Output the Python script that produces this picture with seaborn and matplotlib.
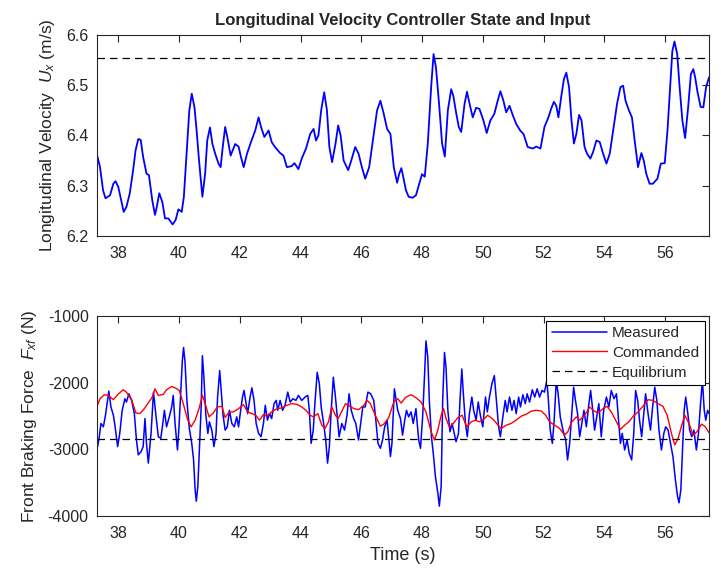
import numpy as np
import pandas as pd
import matplotlib
matplotlib.use("Agg")
import matplotlib.pyplot as plt
import seaborn as sns

# --- data ---
vel_t = [37.25, 37.4, 37.5, 37.58, 37.73, 37.84, 37.91, 38.0, 38.11, 38.18, 38.27, 38.38, 38.49, 38.57,
         38.66, 38.74, 38.82, 38.93, 39.01, 39.12, 39.21, 39.27, 39.35, 39.45, 39.54, 39.65, 39.79, 39.89,
         39.98, 40.09, 40.16, 40.25, 40.34, 40.42, 40.51, 40.58, 40.66, 40.77, 40.86, 40.93, 41.02, 41.1,
         41.19, 41.3, 41.37, 41.44, 41.52, 41.59, 41.7, 41.85, 41.96, 42.04, 42.13, 42.24, 42.37, 42.51,
         42.62, 42.7, 42.81, 42.95, 43.05, 43.16, 43.33, 43.44, 43.55, 43.71, 43.8, 43.93, 44.04, 44.18,
         44.32, 44.43, 44.51, 44.59, 44.68, 44.78, 44.87, 44.95, 45.04, 45.15, 45.24, 45.32, 45.42, 45.57,
         45.67, 45.8, 45.91, 46.02, 46.13, 46.26, 46.41, 46.52, 46.63, 46.74, 46.85, 46.96, 47.07, 47.18,
         47.25, 47.32, 47.38, 47.47, 47.56, 47.69, 47.8, 47.91, 48.0, 48.09, 48.19, 48.3, 48.38, 48.46,
         48.57, 48.66, 48.75, 48.85, 48.96, 49.03, 49.12, 49.21, 49.29, 49.4, 49.48, 49.58, 49.67, 49.78,
         49.89, 50.02, 50.13, 50.25, 50.38, 50.49, 50.58, 50.68, 50.77, 50.88, 50.99, 51.1, 51.23, 51.34,
         51.48, 51.65, 51.76, 51.9, 52.03, 52.16, 52.25, 52.34, 52.42, 52.49, 52.58, 52.67, 52.75, 52.84,
         52.92, 53.0, 53.08, 53.17, 53.25, 53.35, 53.43, 53.54, 53.63, 53.74, 53.85, 53.96, 54.07, 54.18,
         54.29, 54.42, 54.53, 54.62, 54.7, 54.81, 54.91, 55.0, 55.11, 55.22, 55.3, 55.38, 55.49, 55.6,
         55.75, 55.86, 55.99, 56.08, 56.18, 56.24, 56.31, 56.4, 56.48, 56.57, 56.66, 56.76, 56.85, 56.93,
         56.99, 57.07, 57.17, 57.26, 57.35, 57.45]
vel_u = [6.374, 6.337, 6.291, 6.275, 6.281, 6.304, 6.309, 6.298, 6.268, 6.248, 6.258, 6.285, 6.331, 6.37,
         6.393, 6.391, 6.357, 6.324, 6.321, 6.271, 6.242, 6.258, 6.285, 6.268, 6.235, 6.235, 6.223, 6.232,
         6.253, 6.248, 6.278, 6.364, 6.45, 6.483, 6.456, 6.41, 6.35, 6.278, 6.324, 6.39, 6.416, 6.383,
         6.364, 6.344, 6.337, 6.377, 6.417, 6.397, 6.36, 6.383, 6.378, 6.357, 6.337, 6.364, 6.387, 6.41,
         6.436, 6.417, 6.397, 6.41, 6.387, 6.377, 6.365, 6.36, 6.337, 6.339, 6.345, 6.333, 6.354, 6.374,
         6.403, 6.413, 6.39, 6.4, 6.45, 6.486, 6.45, 6.377, 6.347, 6.383, 6.42, 6.4, 6.35, 6.331,
         6.35, 6.377, 6.364, 6.337, 6.314, 6.337, 6.403, 6.45, 6.469, 6.443, 6.413, 6.403, 6.337, 6.306,
         6.324, 6.335, 6.318, 6.291, 6.278, 6.276, 6.281, 6.304, 6.323, 6.318, 6.384, 6.496, 6.562, 6.535,
         6.456, 6.384, 6.358, 6.45, 6.492, 6.479, 6.446, 6.417, 6.407, 6.463, 6.487, 6.459, 6.436, 6.455,
         6.453, 6.43, 6.405, 6.43, 6.443, 6.469, 6.488, 6.469, 6.446, 6.459, 6.44, 6.423, 6.41, 6.403,
         6.377, 6.374, 6.378, 6.374, 6.417, 6.436, 6.453, 6.467, 6.459, 6.436, 6.476, 6.512, 6.525, 6.496,
         6.43, 6.384, 6.403, 6.441, 6.43, 6.377, 6.364, 6.354, 6.367, 6.39, 6.387, 6.364, 6.344, 6.364,
         6.41, 6.463, 6.496, 6.499, 6.469, 6.45, 6.436, 6.39, 6.337, 6.365, 6.35, 6.324, 6.304, 6.304,
         6.314, 6.344, 6.345, 6.41, 6.509, 6.568, 6.587, 6.562, 6.496, 6.43, 6.395, 6.456, 6.522, 6.532,
         6.516, 6.486, 6.457, 6.456, 6.496, 6.516]
vel_eq = 6.555

cmd_t = [37.25, 37.4, 37.54, 37.67, 37.84, 37.98, 38.16, 38.27, 38.44, 38.58, 38.71, 38.86, 39.01, 39.12,
         39.21, 39.32, 39.48, 39.59, 39.76, 39.89, 40.01, 40.14, 40.29, 40.4, 40.53, 40.66, 40.77, 40.86,
         40.99, 41.13, 41.26, 41.41, 41.52, 41.65, 41.79, 41.96, 42.12, 42.26, 42.4, 42.53, 42.65, 42.78,
         42.89, 43.05, 43.22, 43.38, 43.55, 43.71, 43.88, 44.04, 44.18, 44.32, 44.43, 44.57, 44.7, 44.81,
         44.92, 45.03, 45.15, 45.24, 45.35, 45.48, 45.62, 45.76, 45.91, 46.08, 46.19, 46.3, 46.46, 46.63,
         46.74, 46.9, 47.07, 47.2, 47.31, 47.47, 47.64, 47.8, 47.97, 48.13, 48.3, 48.41, 48.52, 48.63,
         48.71, 48.79, 48.9, 49.03, 49.18, 49.32, 49.47, 49.62, 49.76, 49.89, 50.02, 50.16, 50.31, 50.44,
         50.6, 50.77, 50.93, 51.1, 51.26, 51.43, 51.59, 51.76, 51.92, 52.07, 52.2, 52.36, 52.53, 52.69,
         52.8, 52.91, 53.08, 53.19, 53.35, 53.52, 53.63, 53.79, 53.96, 54.09, 54.23, 54.4, 54.53, 54.67,
         54.81, 54.95, 55.11, 55.27, 55.44, 55.6, 55.77, 55.93, 56.07, 56.21, 56.32, 56.43, 56.54, 56.65,
         56.79, 56.92, 57.05, 57.2, 57.31, 57.45]
cmd_f = [-2414, -2240, -2180, -2190, -2255, -2180, -2106, -2141, -2255, -2453, -2463, -2389, -2290, -2215,
         -2091, -2190, -2176, -2106, -2056, -2081, -2116, -2314, -2562, -2662, -2562, -2389, -2190, -2314,
         -2513, -2453, -2364, -2354, -2523, -2438, -2438, -2389, -2329, -2438, -2463, -2488, -2562, -2478,
         -2503, -2438, -2389, -2379, -2339, -2314, -2324, -2364, -2414, -2488, -2513, -2463, -2637, -2686,
         -2587, -2364, -2488, -2538, -2438, -2314, -2354, -2389, -2404, -2339, -2265, -2314, -2488, -2652,
         -2622, -2528, -2290, -2240, -2305, -2215, -2180, -2225, -2290, -2438, -2736, -2860, -2711, -2488,
         -2389, -2538, -2662, -2612, -2523, -2488, -2662, -2587, -2562, -2587, -2553, -2488, -2538, -2602,
         -2686, -2637, -2612, -2562, -2503, -2473, -2428, -2414, -2424, -2488, -2587, -2637, -2686, -2786,
         -2736, -2602, -2513, -2562, -2488, -2364, -2414, -2453, -2389, -2354, -2438, -2587, -2701, -2637,
         -2587, -2503, -2438, -2354, -2255, -2265, -2314, -2354, -2488, -2761, -2934, -2835, -2652, -2488,
         -2612, -2786, -2736, -2622, -2652, -2751]

meas_t = [37.25, 37.32, 37.37, 37.43, 37.51, 37.58, 37.65, 37.69, 37.76, 37.84, 37.89, 37.98, 38.05, 38.13,
          38.22, 38.27, 38.35, 38.44, 38.53, 38.6, 38.66, 38.75, 38.82, 38.88, 38.93, 38.99, 39.08, 39.16,
          39.24, 39.32, 39.4, 39.46, 39.52, 39.59, 39.68, 39.76, 39.81, 39.87, 39.95, 40.0, 40.07, 40.11,
          40.15, 40.2, 40.26, 40.34, 40.42, 40.48, 40.53, 40.57, 40.62, 40.67, 40.73, 40.77, 40.82, 40.88,
          40.95, 41.0, 41.08, 41.15, 41.22, 41.27, 41.34, 41.38, 41.45, 41.52, 41.59, 41.66, 41.74, 41.82,
          41.9, 41.96, 42.03, 42.09, 42.14, 42.2, 42.26, 42.34, 42.4, 42.47, 42.54, 42.62, 42.7, 42.78,
          42.84, 42.91, 42.98, 43.05, 43.13, 43.2, 43.25, 43.33, 43.41, 43.49, 43.58, 43.66, 43.75, 43.85,
          43.93, 44.04, 44.15, 44.24, 44.29, 44.35, 44.42, 44.48, 44.55, 44.62, 44.68, 44.76, 44.83, 44.89,
          44.95, 45.01, 45.08, 45.15, 45.21, 45.27, 45.36, 45.45, 45.53, 45.6, 45.67, 45.75, 45.82, 45.91,
          45.98, 46.05, 46.13, 46.22, 46.31, 46.41, 46.48, 46.55, 46.63, 46.7, 46.77, 46.85, 46.9, 46.96,
          47.01, 47.09, 47.2, 47.29, 47.36, 47.43, 47.49, 47.56, 47.64, 47.71, 47.8, 47.89, 47.95, 48.02,
          48.08, 48.13, 48.19, 48.24, 48.31, 48.37, 48.44, 48.52, 48.57, 48.63, 48.68, 48.74, 48.79, 48.85,
          48.92, 48.99, 49.05, 49.12, 49.2, 49.25, 49.31, 49.36, 49.43, 49.49, 49.56, 49.64, 49.7, 49.78,
          49.85, 49.92, 50.0, 50.09, 50.15, 50.22, 50.3, 50.38, 50.44, 50.52, 50.58, 50.66, 50.74, 50.8,
          50.88, 50.96, 51.03, 51.1, 51.18, 51.24, 51.32, 51.4, 51.46, 51.54, 51.63, 51.71, 51.79, 51.87,
          51.95, 52.03, 52.11, 52.16, 52.22, 52.29, 52.35, 52.42, 52.48, 52.55, 52.64, 52.73, 52.79, 52.86,
          52.92, 52.99, 53.05, 53.12, 53.19, 53.26, 53.33, 53.41, 53.48, 53.55, 53.62, 53.68, 53.75, 53.82,
          53.9, 53.98, 54.07, 54.15, 54.23, 54.32, 54.4, 54.46, 54.53, 54.59, 54.67, 54.75, 54.82, 54.9,
          54.97, 55.03, 55.1, 55.16, 55.23, 55.3, 55.36, 55.44, 55.52, 55.58, 55.66, 55.73, 55.8, 55.88,
          55.96, 56.02, 56.1, 56.18, 56.26, 56.34, 56.41, 56.46, 56.52, 56.57, 56.63, 56.68, 56.75, 56.81,
          56.88, 56.95, 57.03, 57.1, 57.16, 57.23, 57.29, 57.34, 57.4, 57.45]
meas_f = [-2786, -2959, -2835, -2612, -2662, -2488, -2265, -2126, -2364, -2488, -2637, -2959, -2761, -2414,
          -2240, -2290, -2166, -2265, -2463, -2860, -3083, -3034, -2959, -2538, -2910, -3207, -2761, -2141,
          -2488, -2810, -2835, -2637, -2414, -2662, -2513, -2364, -2190, -2612, -3009, -2662, -2017, -1670,
          -1471, -1694, -2265, -2686, -2910, -3158, -3604, -3778, -3554, -3009, -2364, -1595, -1918, -2463,
          -2761, -2587, -2711, -2959, -2761, -2215, -1818, -2066, -2488, -2711, -2662, -2414, -2612, -2662,
          -2513, -2662, -2414, -2215, -2116, -2290, -2463, -2215, -2076, -2265, -2612, -2761, -2810, -2612,
          -2339, -2562, -2463, -2538, -2314, -2265, -2414, -2265, -2414, -2339, -2141, -2290, -2240, -2265,
          -2190, -2265, -2215, -2190, -2414, -2910, -2711, -2265, -1843, -2017, -2364, -2612, -2860, -3207,
          -2959, -2414, -1918, -2215, -2513, -2810, -2612, -2711, -2488, -2166, -2414, -2538, -2612, -2860,
          -2612, -2364, -2364, -2141, -2166, -2265, -2562, -2910, -2984, -2860, -2662, -2562, -2810, -3108,
          -2910, -2091, -2414, -2538, -2786, -2562, -2414, -2513, -2438, -2612, -2389, -2860, -2984, -2513,
          -1918, -1372, -1620, -2265, -2810, -3059, -3406, -3654, -3852, -3554, -2265, -1546, -1769, -2414,
          -2736, -2612, -2736, -2885, -2761, -2265, -1794, -2166, -2612, -2810, -2463, -2215, -2414, -2562,
          -2290, -2488, -2662, -2215, -2438, -2215, -2017, -1893, -2215, -2662, -2810, -2513, -2265, -2438,
          -2215, -2414, -2265, -2463, -2215, -2364, -2180, -2314, -2166, -2290, -2106, -2215, -2091, -2215,
          -2116, -2141, -1967, -2265, -2711, -2910, -2562, -1967, -2166, -2513, -2711, -2860, -3158, -2910,
          -2513, -2066, -2265, -2463, -2810, -2612, -2414, -2662, -2364, -2116, -2414, -2711, -2513, -2314,
          -2810, -2414, -2215, -2364, -2116, -2240, -2166, -2513, -2910, -2761, -3009, -2860, -3059, -3158,
          -2761, -2116, -2265, -2562, -2810, -2463, -2166, -2463, -2711, -2414, -2066, -2265, -2711, -3009,
          -2761, -2662, -2711, -2910, -3108, -3455, -3703, -3802, -3604, -3059, -2414, -2215, -2463, -2711,
          -2810, -2711, -3009, -2761, -2364, -1967, -2414, -2562, -2414, -2463]
force_eq = -2850

x_ticks = [38, 40, 42, 44, 46, 48, 50, 52, 54, 56]
vel_ticks = [6.2, 6.3, 6.4, 6.5, 6.6]
force_ticks = [-4000, -3000, -2000, -1000]

vel_df = pd.DataFrame({"t": vel_t, "u": vel_u})
cmd_df = pd.DataFrame({"t": cmd_t, "f": cmd_f})
meas_df = pd.DataFrame({"t": meas_t, "f": meas_f})

sns.set_style("white")
plt.rcParams["font.family"] = ["Liberation Sans", "DejaVu Sans"]
plt.rcParams["mathtext.fontset"] = "custom"
plt.rcParams["mathtext.it"] = "Liberation Sans:italic"
plt.rcParams["mathtext.rm"] = "Liberation Sans"
plt.rcParams["axes.unicode_minus"] = False

fig = plt.figure(figsize=(7.21, 5.76), dpi=100)
ax1 = fig.add_axes([0.1345, 0.5903, 0.849, 0.349])
ax2 = fig.add_axes([0.1345, 0.1042, 0.849, 0.347])

xlim = (37.3, 57.45)
axis_col = "#262626"

sns.lineplot(data=vel_df, x="t", y="u", ax=ax1, color="#0000ff", lw=1.3, sort=False, estimator=None)
ax1.axhline(vel_eq, color="black", ls=(0, (6, 4)), lw=0.9)

sns.lineplot(data=meas_df, x="t", y="f", ax=ax2, color="#0000ff", lw=1.1, sort=False, estimator=None,
             label="Measured")
sns.lineplot(data=cmd_df, x="t", y="f", ax=ax2, color="#ff0000", lw=1.0, sort=False, estimator=None,
             label="Commanded")
ax2.axhline(force_eq, color="black", ls=(0, (6, 4)), lw=0.9, label="Equilibrium")

for ax, yt, yl in [(ax1, vel_ticks, (6.2, 6.6)), (ax2, force_ticks, (-4000, -1000))]:
    ax.set_xlim(*xlim)
    ax.set_ylim(*yl)
    ax.set_xticks(x_ticks)
    ax.set_yticks(yt)
    ax.tick_params(direction="in", top=True, right=True, length=5, width=0.8,
                   colors=axis_col, labelsize=11.5, labelcolor="#262626")
    ax.tick_params(axis="x", pad=7.5)
    ax.tick_params(axis="y", pad=6)
    for s in ax.spines.values():
        s.set_visible(True)
        s.set_color(axis_col)
        s.set_linewidth(0.8)
    ax.set_xlabel("")

ax1.set_yticklabels(["6.2", "6.3", "6.4", "6.5", "6.6"])
ax1.set_title("Longitudinal Velocity Controller State and Input", fontsize=12, fontweight="bold", pad=7)
ax1.set_ylabel(r"Longitudinal Velocity  $U_x$ (m/s)", fontsize=12.5, color="#262626")
ax2.set_ylabel(r"Front Braking Force  $F_{xf}$ (N)", fontsize=12.5, color="#262626")
ax1.yaxis.set_label_coords(-0.065, 0.5)
ax2.yaxis.set_label_coords(-0.094, 0.5)
ax2.set_xlabel("Time (s)", fontsize=13, color="#262626", labelpad=4)

leg = ax2.legend(loc="upper right", fontsize=11, frameon=True, fancybox=False, framealpha=1,
                 edgecolor="black", borderaxespad=0.3, handlelength=3.6, labelspacing=0.38,
                 borderpad=0.35, handletextpad=0.35)
leg.get_frame().set_linewidth(0.8)

fig.savefig("out.png", dpi=100)
